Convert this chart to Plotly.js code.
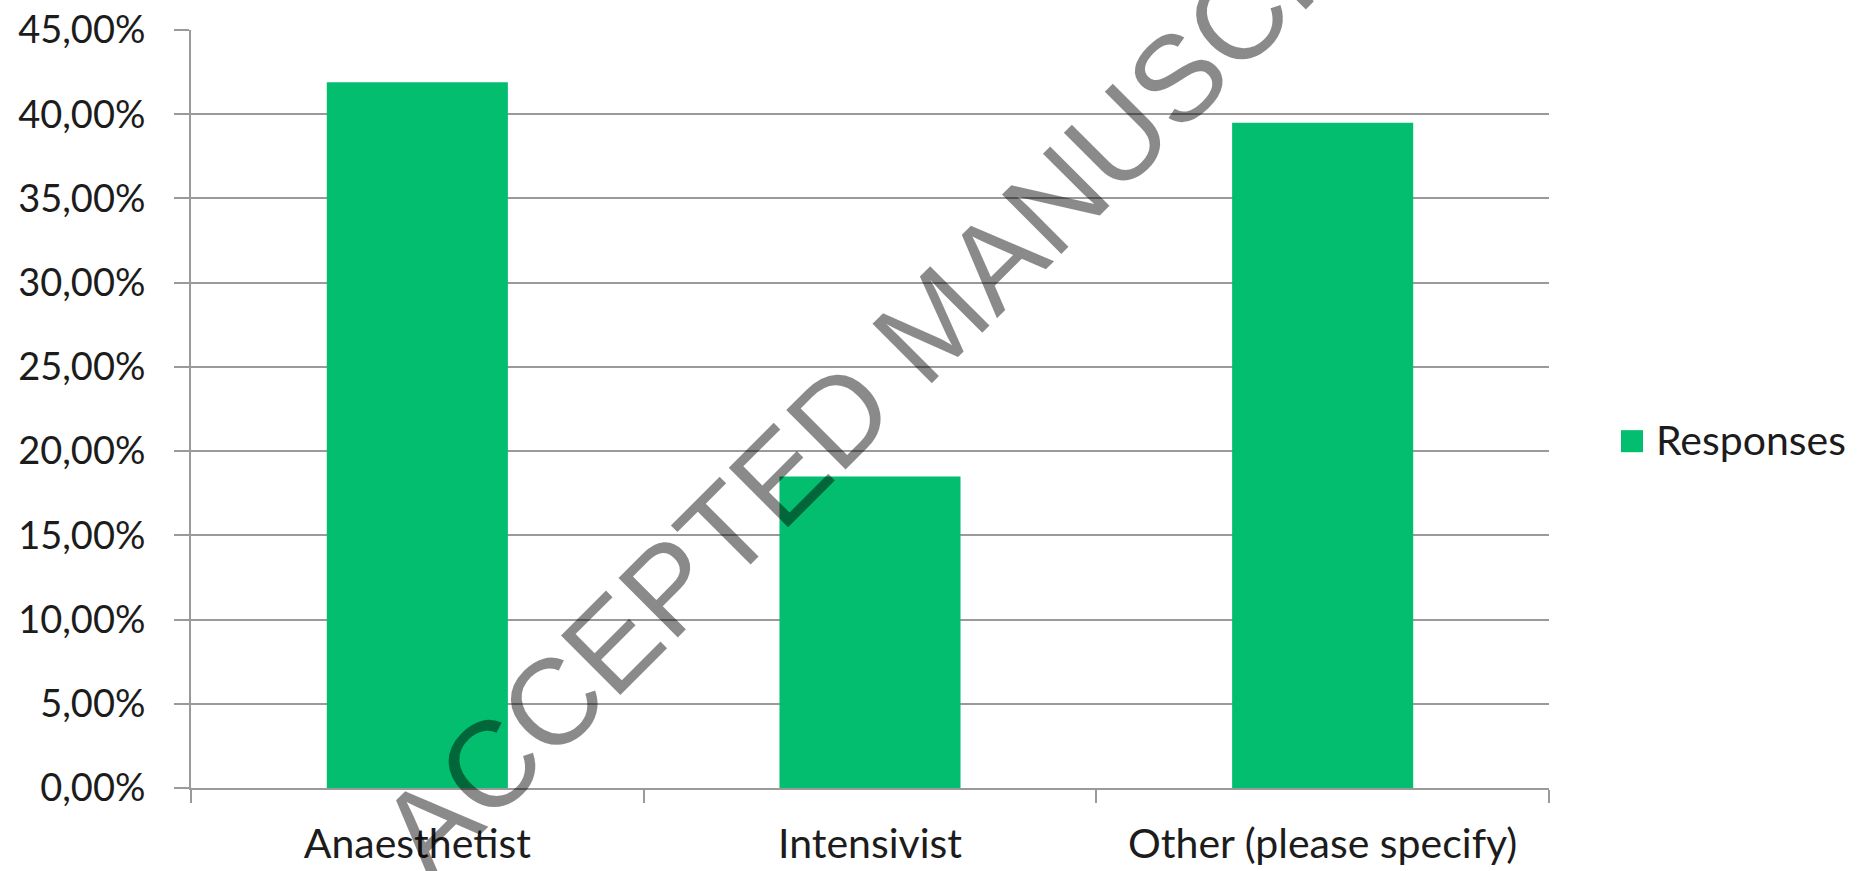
<!DOCTYPE html>
<html>
<head>
<meta charset="utf-8">
<script src="https://cdn.plot.ly/plotly-3.0.1.min.js"></script>
<style>
  html, body { margin: 0; padding: 0; background: #ffffff; }
  #chart { width: 1871px; height: 871px; }
</style>
</head>
<body>
<div id="chart"></div>
<script>
// Survey responses by specialty (share of respondents, %)
const categories = ['Anaesthetist', 'Intensivist', 'Other (please specify)'];
const responses = [41.9, 18.5, 39.5];
const seriesName = 'Responses';
const yTickValues = [0, 5, 10, 15, 20, 25, 30, 35, 40, 45];
const watermarkText = 'ACCEPTED MANUSCRIPT';

// "45,00%" style labels: two decimals, comma as decimal separator
const yTickText = yTickValues.map(v => v.toFixed(2).replace('.', ',') + '%');

const barColor = '#02BE6E';
const gridColor = '#9a9a9a';
const textColor = '#1c1c1c';
const fontFamily = 'Lato, "Open Sans", sans-serif';
const xLabelFont = { family: fontFamily, size: 41, color: textColor };
const yLabelFont = { family: fontFamily, size: 38, color: textColor };

const trace = {
  type: 'bar',
  name: seriesName,
  x: categories,
  y: responses,
  marker: { color: barColor, line: { width: 0 } },
  showlegend: false,
  hoverinfo: 'x+y'
};

const layout = {
  width: 1871,
  height: 871,
  margin: { l: 191, r: 322, t: 30, b: 83, pad: 0 },
  paper_bgcolor: '#ffffff',
  plot_bgcolor: '#ffffff',
  bargap: 0.6,
  font: xLabelFont,
  showlegend: false,
  xaxis: {
    type: 'category',
    tickson: 'boundaries',
    ticks: 'outside',
    ticklen: 13,
    tickwidth: 2,
    tickcolor: gridColor,
    showline: true,
    linecolor: gridColor,
    linewidth: 2,
    showgrid: false,
    zeroline: false,
    tickfont: xLabelFont,
    ticklabelstandoff: 19
  },
  yaxis: {
    range: [0, 45],
    tickvals: yTickValues,
    ticktext: yTickText,
    ticks: 'outside',
    ticklen: 15,
    tickwidth: 2,
    tickcolor: gridColor,
    showline: true,
    linecolor: gridColor,
    linewidth: 2,
    showgrid: true,
    gridcolor: gridColor,
    gridwidth: 2,
    zeroline: false,
    tickfont: yLabelFont,
    ticklabelstandoff: 21
  },
  // series key: colour swatch plus its name, right of the plot area
  shapes: [{
    type: 'rect',
    xref: 'paper',
    yref: 'paper',
    x0: 1.053, x1: 1.0692,
    y0: 0.443, y1: 0.4721,
    fillcolor: barColor,
    line: { width: 0 }
  }],
  annotations: [{
    text: seriesName,
    xref: 'paper',
    yref: 'paper',
    x: 1.077,
    y: 0.4603,
    xanchor: 'left',
    yanchor: 'middle',
    showarrow: false,
    font: xLabelFont
  }, {
    text: watermarkText,
    xref: 'paper',
    yref: 'paper',
    x: 0.547,
    y: 0.6146,
    xanchor: 'center',
    yanchor: 'middle',
    textangle: -45,
    showarrow: false,
    font: { family: '"Liberation Sans", Arial, sans-serif', size: 122, color: 'rgba(0,0,0,0.46)' }
  }]
};

Plotly.newPlot('chart', [trace], layout, { displayModeBar: false, staticPlot: true });
</script>
</body>
</html>
